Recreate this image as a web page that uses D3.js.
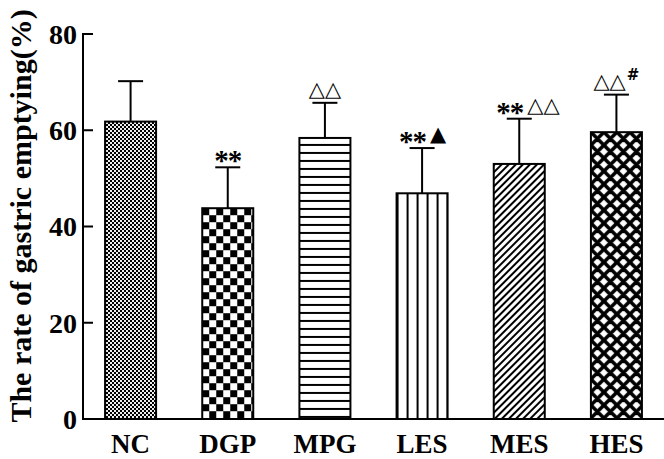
<!DOCTYPE html>
<meta charset="utf-8">
<style>
body { margin: 0; background: #fff; }
text { font-family: "Liberation Serif", "Times New Roman", serif; font-weight: bold; fill: #000; }
</style>
<svg width="664" height="459"></svg>
<script src="https://cdn.jsdelivr.net/npm/d3@7"></script>
<script>
// data
var groups = ["NC", "DGP", "MPG", "LES", "MES", "HES"]
var means = [61.8, 43.8, 58.4, 46.9, 53.0, 59.6]
var sds = [8.4, 8.5, 7.3, 9.4, 9.4, 7.8]
var marks = ["", "**", "\u25B3\u25B3", "**\u25B2", "**\u25B3\u25B3", "\u25B3\u25B3#"]
var yTicks = [0, 20, 40, 60, 80]
var yTitle = "The rate of gastric emptying(%)"

const svg = d3.select('svg')
const mLeft = 83, mRight = 664, mTop = 34, mBottom = 419

const x = d3.scaleBand()
  .domain(groups)
  .range([82, 665])
  .paddingInner(0.475)
  .paddingOuter(0.2375)

const y = d3.scaleLinear().domain([0, 80]).range([mBottom, mTop])

const defs = svg.append('defs')

// fill patterns, one per group
function pat(id, w, h, ox, oy) {
  return defs.append('pattern')
    .attr('id', id)
    .attr('patternUnits', 'userSpaceOnUse')
    .attr('width', w).attr('height', h)
    .attr('x', ox || 0).attr('y', oy || 0)
}

var p = pat('p-NC', 4, 4)
p.append('rect').attr('width', 4).attr('height', 4).attr('fill', '#000')
p.append('rect').attr('width', 2).attr('height', 2).attr('fill', '#eee')
p.append('rect').attr('x', 2).attr('y', 2).attr('width', 2).attr('height', 2).attr('fill', '#eee')

p = pat('p-DGP', 14, 14, x('DGP'), y(means[1]))
p.append('rect').attr('width', 14).attr('height', 14).attr('fill', '#fff')
p.append('rect').attr('width', 7).attr('height', 7).attr('fill', '#000')
p.append('rect').attr('x', 7).attr('y', 7).attr('width', 7).attr('height', 7).attr('fill', '#000')

p = pat('p-MPG', 8, 8, 0, y(means[2]))
p.append('rect').attr('width', 8).attr('height', 8).attr('fill', '#fff')
p.append('rect').attr('y', 6).attr('width', 8).attr('height', 2).attr('fill', '#000')

p = pat('p-LES', 10, 10, x('LES'), 0)
p.append('rect').attr('width', 10).attr('height', 10).attr('fill', '#fff')
p.append('rect').attr('x', 0).attr('width', 2).attr('height', 10).attr('fill', '#000')

p = pat('p-MES', 5, 5).attr('patternTransform', 'rotate(45)')
p.append('rect').attr('width', 5).attr('height', 5).attr('fill', '#fff')
p.append('rect').attr('width', 2).attr('height', 5).attr('fill', '#000')

p = pat('p-HES', 13, 13, x('HES'), y(means[5]))
p.append('rect').attr('width', 13).attr('height', 13).attr('fill', '#fff')
p.append('path').attr('d', 'M0,0L13,13M13,0L0,13M-1,12L1,14M12,-1L14,1M-1,1L1,-1M12,14L14,12')
  .attr('stroke', '#000').attr('stroke-width', 3.6)

// bars
svg.append('g')
  .selectAll('rect')
  .data(groups)
  .enter().append('rect')
  .attr('x', g => x(g))
  .attr('y', (g, i) => y(means[i]))
  .attr('width', x.bandwidth())
  .attr('height', (g, i) => y(0) - y(means[i]))
  .attr('fill', g => 'url(#p-' + g + ')')
  .attr('stroke', '#000')
  .attr('stroke-width', 2)

// error bars (upper only)
var eb = svg.append('g').attr('stroke', '#000').attr('stroke-width', 2)
groups.forEach((g, i) => {
  const cx = x(g) + x.bandwidth() / 2
  eb.append('line')
    .attr('x1', cx).attr('x2', cx)
    .attr('y1', y(means[i])).attr('y2', y(means[i] + sds[i]))
  eb.append('line')
    .attr('x1', cx - 12.5).attr('x2', cx + 12.5)
    .attr('y1', y(means[i] + sds[i])).attr('y2', y(means[i] + sds[i]))
})

// significance marks
groups.forEach((g, i) => {
  if (!marks[i]) return
  const cx = x(g) + x.bandwidth() / 2
  const base = y(means[i] + sds[i]) - 6
  const t = svg.append('text').attr('y', base)
  const parts = marks[i].match(/\*+|[\u25B3\u25B2]+|#/g)
  const wide = parts.length > 1
  t.attr('x', wide ? cx - 23 : cx).attr('text-anchor', wide ? 'start' : 'middle')
  parts.forEach(s => {
    const ts = t.append('tspan').text(s)
    if (s[0] === '*') {
      ts.attr('font-size', 29).attr('y', base + 9).attr('letter-spacing', -1)
    } else if (s === '#') {
      ts.attr('font-size', 15).attr('y', base - 9).attr('font-family', 'DejaVu Sans').attr('dx', 1)
    } else {
      ts.attr('font-family', 'DejaVu Sans')
        .attr('font-size', 21).attr('y', base - 1).attr('dx', wide && s[0] !== '\u25B3' || i === 4 ? 4 : 0)
    }
  })
})

// axes
var ax = svg.append('g').attr('stroke', '#000').attr('stroke-width', 2)
ax.append('line').attr('x1', mLeft).attr('x2', mLeft).attr('y1', mTop - 1).attr('y2', mBottom + 1)
ax.append('line').attr('x1', mLeft - 1).attr('x2', mRight).attr('y1', mBottom).attr('y2', mBottom)
ax.selectAll('.tk')
  .data(yTicks)
  .enter().append('line')
  .attr('x1', mLeft).attr('x2', mLeft + 10)
  .attr('y1', d => y(d)).attr('y2', d => y(d))

svg.append('g')
  .selectAll('text')
  .data(yTicks)
  .enter().append('text')
  .attr('x', 77)
  .attr('y', d => y(d))
  .attr('dy', '0.35em')
  .attr('text-anchor', 'end')
  .attr('font-size', 28)
  .text(d => d)

svg.append('g')
  .selectAll('text')
  .data(groups)
  .enter().append('text')
  .attr('x', g => x(g) + x.bandwidth() / 2)
  .attr('y', 453)
  .attr('text-anchor', 'middle')
  .attr('font-size', 27)
  .text(g => g)

svg.append('text')
  .attr('transform', 'translate(31,216) rotate(-90)')
  .attr('text-anchor', 'middle')
  .attr('font-size', 30)
  .text(yTitle)
</script>
